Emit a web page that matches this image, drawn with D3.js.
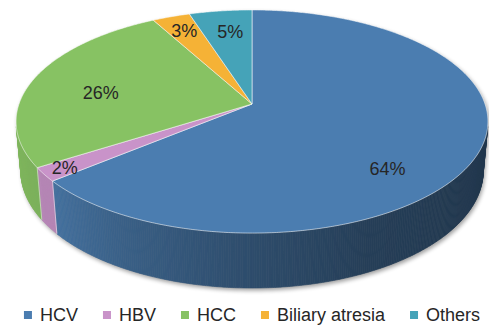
<!DOCTYPE html>
<html>
<head>
<meta charset="utf-8">
<script src="https://cdn.jsdelivr.net/npm/d3@7"></script>
<style>
  html, body { margin: 0; padding: 0; background: #ffffff; }
  svg { display: block; }
</style>
</head>
<body>
<svg id="chart" width="489" height="325"></svg>
<script>
// Indications for transplant, share of cases (%)
const categories = ["HCV", "HBV", "HCC", "Biliary atresia", "Others"];
const shares = [64, 2, 26, 3, 5];
const sliceColors = ["#4b7db0", "#c993c9", "#87c263", "#f5b236", "#45a3b8"];

// Label anchors: angular nudge from the slice middle (degrees) and radius fraction
const labelNudge = [[20.4, 0.76], [0, 0.91], [-4.8, 0.67], [0, 0.82], [1, 0.75]];

const svg = d3.select("#chart");
const defs = svg.append("defs");

// ---- perspective camera looking down on a disc ----
const tilt = Math.asin(0.467);
const ct = Math.cos(tilt), st = Math.sin(tilt);
const R = 0.1776;          // disc radius (camera distance = 1)
const thick = 0.0431;      // disc thickness
const focal = 1312;
const cx = 252, cy = 104;  // screen position of the disc centre

// theta: clockwise from the far side, r: radius fraction, y: height (0 = top face)
function project(theta, r, y) {
  const X = r * R * Math.sin(theta);
  const Z = -r * R * Math.cos(theta);
  const up = y * ct - Z * st;
  const depth = y * st + Z * ct;
  const s = focal / (1 - depth);
  return [cx + X * s, cy - up * s];
}

const deg = d3.scaleLinear().domain([0, 180]).range([0, Math.PI]);
const arcs = d3.pie().sort(null).value(d => d)(shares);

// outer wall faces the camera where cos(theta) < -R / cos(tilt)
const visMin = Math.acos(-R / ct);
const visMax = 2 * Math.PI - visMin;

const step = deg(0.5);
const line = d3.line();

function rimPoints(a0, a1, r, y) {
  const n = Math.max(1, Math.ceil((a1 - a0) / step));
  const pts = [];
  for (let i = 0; i <= n; i++) pts.push(project(a0 + (a1 - a0) * i / n, r, y));
  return pts;
}

// ---- soft shadow under the solid ----
defs.append("filter").attr("id", "soft")
  .attr("x", "-10%").attr("y", "-10%").attr("width", "120%").attr("height", "130%")
  .append("feGaussianBlur").attr("stdDeviation", 2.2);

const outline = rimPoints(visMax, visMin + 2 * Math.PI, 1, 0)
  .concat(rimPoints(visMin, visMax, 1, -thick));
svg.append("path")
  .attr("d", line(outline) + "Z")
  .attr("transform", "translate(1.5,2.5)")
  .attr("fill", "#000")
  .attr("opacity", 0.38)
  .attr("filter", "url(#soft)");

// ---- outer walls, shaded by facing direction ----
const shade = d3.scaleLinear()
  .domain([100, 125, 155, 180, 206, 230, 260])
  .range([0.44, 0.45, 0.5, 0.61, 0.75, 0.9, 0.94])
  .clamp(true);

function darken(c, k) {
  const q = d3.rgb(c);
  return d3.rgb(q.r * k, q.g * k, q.b * k).formatHex();
}

const walls = svg.append("g");
arcs.forEach((a, i) => {
  const a0 = Math.max(a.startAngle, visMin);
  const a1 = Math.min(a.endAngle, visMax);
  if (a1 <= a0) return;
  const n = Math.ceil((a1 - a0) / step);
  for (let k = 0; k < n; k++) {
    const t0 = a0 + (a1 - a0) * k / n;
    const t1 = a0 + (a1 - a0) * (k + 1) / n;
    const mid = (t0 + t1) / 2;
    const fill = darken(sliceColors[i], shade(deg.invert(mid)));
    walls.append("path")
      .attr("d", line([project(t0, 1, 0), project(t1, 1, 0), project(t1, 1, -thick), project(t0, 1, -thick)]) + "Z")
      .attr("fill", fill)
      .attr("stroke", fill)
      .attr("stroke-width", 0.6);
  }
});

// light seams where wall segments meet
arcs.forEach(a => {
  const t = a.endAngle;
  if (t > visMin && t < visMax) {
    walls.append("path")
      .attr("d", line([project(t, 1, 0), project(t, 1, -thick)]))
      .attr("stroke", "rgba(255,255,255,0.55)")
      .attr("stroke-width", 0.9)
      .attr("fill", "none");
  }
});

// ---- top faces ----
const tops = svg.append("g");
arcs.forEach((a, i) => {
  const pts = [project(0, 0, 0)].concat(rimPoints(a.startAngle, a.endAngle, 1, 0));
  tops.append("path")
    .attr("d", line(pts) + "Z")
    .attr("fill", sliceColors[i])
    .attr("stroke", "rgba(255,255,255,0.6)")
    .attr("stroke-width", 0.9)
    .attr("stroke-linejoin", "round");
});

// ---- percentage labels ----
const labels = svg.append("g")
  .attr("font-family", "'Liberation Sans', Arial, Helvetica, sans-serif")
  .attr("font-size", 18)
  .attr("fill", "#262626")
  .attr("text-anchor", "middle");

arcs.forEach((a, i) => {
  const mid = (a.startAngle + a.endAngle) / 2 + deg(labelNudge[i][0]);
  const p = project(mid, labelNudge[i][1], 0);
  labels.append("text")
    .attr("x", p[0])
    .attr("y", p[1] + 6.5)
    .text(shares[i] + "%");
});

// ---- legend ----
const legend = svg.append("g")
  .attr("font-family", "'Liberation Sans', Arial, Helvetica, sans-serif")
  .attr("font-size", 18)
  .attr("fill", "#262626");

const swatch = 8, textGap = 16, itemGap = 25, baseline = 321;
const items = categories.map((c, i) => {
  const g = legend.append("g");
  g.append("rect")
    .attr("x", 0).attr("y", baseline - 10)
    .attr("width", swatch).attr("height", swatch)
    .attr("fill", sliceColors[i]);
  const t = g.append("text").attr("x", textGap).attr("y", baseline).text(c);
  return { g, w: textGap + t.node().getComputedTextLength() };
});
const total = d3.sum(items, d => d.w) + itemGap * (items.length - 1);
let x = cx - total / 2;
items.forEach(d => {
  d.g.attr("transform", `translate(${x},0)`);
  x += d.w + itemGap;
});
</script>
</body>
</html>
